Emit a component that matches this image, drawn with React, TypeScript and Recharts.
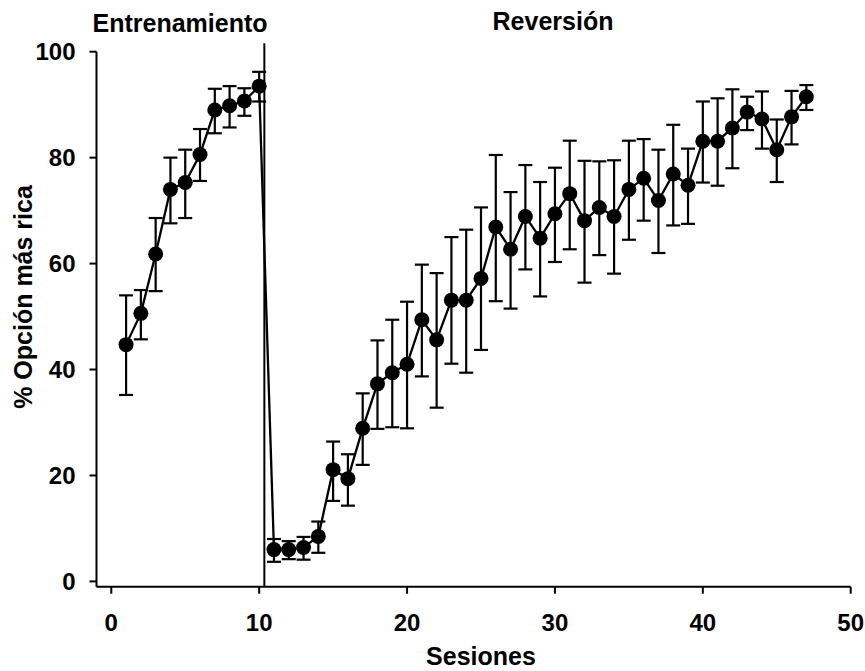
import React from 'react';
import { LineChart, Line, XAxis, YAxis, ErrorBar, ReferenceLine } from 'recharts';

const sessions = [1,2,3,4,5,6,7,8,9,10,11,12,13,14,15,16,17,18,19,20,21,22,23,24,25,26,27,28,29,30,31,32,33,34,35,36,37,38,39,40,41,42,43,44,45,46,47];
const means = [44.7,50.6,61.8,74.0,75.3,80.6,89.0,89.8,90.7,93.5,6.0,6.0,6.4,8.5,21.1,19.4,28.9,37.3,39.4,41.0,49.4,45.6,53.1,53.1,57.2,66.9,62.7,68.9,64.8,69.4,73.2,68.1,70.6,68.9,74.0,76.1,71.9,76.9,74.8,83.1,83.1,85.6,88.6,87.3,81.5,87.7,91.5];
const upper = [54.0,55.0,68.6,80.0,81.5,85.4,93.0,93.5,93.1,96.2,8.0,7.6,8.4,11.3,26.4,24.0,35.5,45.5,49.4,52.8,59.8,58.2,65.0,66.4,70.6,80.5,73.5,78.6,75.4,78.1,83.2,79.4,79.3,79.5,83.2,83.5,81.5,86.2,81.7,90.6,91.2,92.9,91.5,92.5,87.2,92.6,93.7];
const lower = [35.2,45.7,54.8,67.6,68.6,75.6,84.6,85.7,87.9,90.6,3.7,4.2,4.1,5.4,15.2,14.3,22.0,28.8,29.1,28.9,38.7,32.8,41.1,39.4,43.7,52.9,51.5,58.9,53.8,60.3,62.7,56.4,61.6,58.1,64.5,68.1,62.0,67.2,67.5,75.3,74.7,78.0,85.2,81.7,75.4,82.5,89.0];
const xTicks = [0, 10, 20, 30, 40, 50];
const yTicks = [0, 20, 40, 60, 80, 100];
const phaseBoundary = 10.35;
const phaseTitles = ['Entrenamiento', 'Reversión'];
const xLabel = 'Sesiones';
const yLabel = '% Opción más rica';

const data = sessions.map((s, i) => ({
  session: s,
  mean: means[i],
  err: [means[i] - lower[i], upper[i] - means[i]],
}));

const FONT = '"Liberation Sans", Arial, sans-serif';
const tickStyle = { fontFamily: FONT, fontSize: 24, fontWeight: 700, fill: '#000' };
const labelStyle = { fontFamily: FONT, fontSize: 25, fontWeight: 700 };

export default function App() {
  return (
    <div style={{ position: 'absolute', left: 0, top: 0, width: 865, height: 671, background: '#fff' }}>
      <LineChart
        width={865}
        height={671}
        data={data}
        margin={{ top: 51.7, right: 14.3, bottom: 0, left: 0 }}
      >
        <XAxis
          type="number"
          dataKey="session"
          domain={[-1, 50]}
          ticks={xTicks}
          allowDataOverflow
          height={84.3}
          tickSize={7}
          tickMargin={20}
          stroke="#000"
          strokeWidth={2}
          tick={tickStyle}
          tickLine={{ stroke: '#000', strokeWidth: 2 }}
          axisLine={{ stroke: '#000', strokeWidth: 2 }}
          label={{
            content: () => (
              <text x={481} y={665} textAnchor="middle" style={labelStyle} fill="#000">
                {xLabel}
              </text>
            ),
          }}
        />
        <YAxis
          type="number"
          domain={[-1, 100]}
          ticks={yTicks}
          allowDataOverflow
          width={96.5}
          tickSize={7}
          tickMargin={14}
          stroke="#000"
          strokeWidth={2}
          tick={tickStyle}
          tickLine={{ stroke: '#000', strokeWidth: 2 }}
          axisLine={{ stroke: '#000', strokeWidth: 2 }}
          label={{
            content: () => (
              <text
                x={0}
                y={0}
                transform="translate(32 297) rotate(-90)"
                textAnchor="middle"
                style={labelStyle}
                fill="#000"
              >
                {yLabel}
              </text>
            ),
          }}
        />
        <ReferenceLine
          segment={[{ x: phaseBoundary, y: -1 }, { x: phaseBoundary, y: 101.6 }]}
          ifOverflow="visible"
          stroke="#000"
          strokeWidth={2}
        />
        <Line
          type="linear"
          dataKey="mean"
          stroke="#000"
          strokeWidth={2.3}
          dot={{ r: 7.5, fill: '#000', stroke: '#000', strokeWidth: 0 }}
          activeDot={false}
          isAnimationActive={false}
        >
          <ErrorBar dataKey="err" direction="y" width={7} stroke="#000" strokeWidth={2.2} isAnimationActive={false} />
        </Line>
      </LineChart>
      <svg width={865} height={671} style={{ position: 'absolute', left: 0, top: 0, pointerEvents: 'none' }}>
        <text x={180} y={32} textAnchor="middle" style={labelStyle} fill="#000">
          {phaseTitles[0]}
        </text>
        <text x={553} y={29.5} textAnchor="middle" style={labelStyle} fill="#000">
          {phaseTitles[1]}
        </text>
      </svg>
    </div>
  );
}
